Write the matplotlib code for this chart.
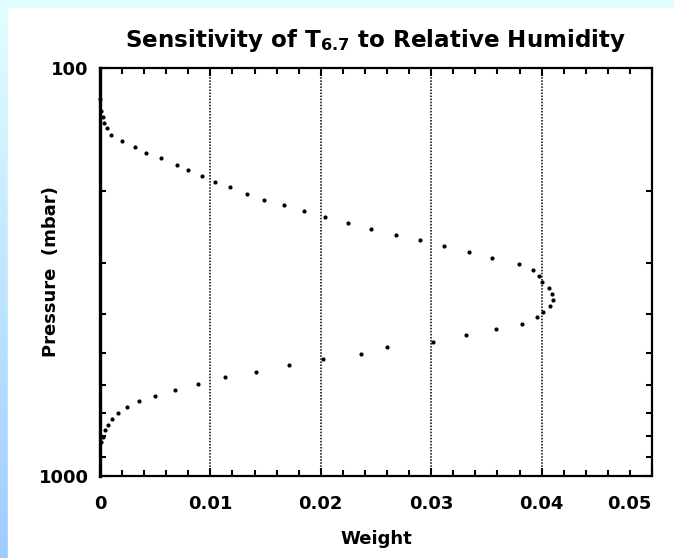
import numpy as np
import matplotlib
matplotlib.use('Agg')
import matplotlib.pyplot as plt
from matplotlib.patches import Rectangle

plt.rcParams['font.family'] = 'DejaVu Sans'
plt.rcParams['font.weight'] = 'bold'
plt.rcParams['mathtext.fontset'] = 'dejavusans'

# weighting function: weight vs pressure (mbar)
pressure = [119.1, 127.5, 132.1, 136.2, 140.5, 145.7,
            150.7, 156.0, 161.3, 166.2, 172.6, 178.1, 183.9, 190.2, 196.0, 203.3,
            210.3, 216.7, 224.1, 231.8, 239.4, 248.1, 256.2, 264.4, 273.5, 282.9,
            292.2, 302.3, 312.7, 323.5, 334.6, 346.2, 358.1, 370.4, 382.5, 395.7,
            408.4, 423.4, 437.0, 452.0, 470.2, 482.8, 501.4, 516.7, 535.4, 555.1,
            572.9, 594.0, 614.5, 635.7, 656.1, 677.6, 701.0, 725.1, 748.9, 771.7,
            801.4, 825.4]
weight = [0.00003, 0.0001, 0.0003, 0.00039, 0.00061, 0.0010,
          0.00202, 0.00314, 0.00419, 0.00555, 0.0070, 0.00797, 0.00921, 0.01044, 0.0118, 0.01329,
          0.01488, 0.01664, 0.01851, 0.02041, 0.02249, 0.02457, 0.02678, 0.02901, 0.03119, 0.0334,
          0.03553, 0.03798, 0.03922, 0.03979, 0.04006, 0.04067, 0.04097, 0.04101, 0.04076, 0.04013,
          0.03956, 0.0382, 0.03587, 0.03318, 0.03019, 0.026, 0.02361, 0.02023, 0.01712, 0.01413,
          0.01135, 0.00888, 0.00677, 0.00501, 0.00353, 0.00245, 0.0016, 0.00109, 0.00072, 0.00043,
          0.0003, 0.0001]

xticks = [0, 0.01, 0.02, 0.03, 0.04, 0.05]
xticklabels = ['0', '0.01', '0.02', '0.03', '0.04', '0.05']
grid_x = [0.01, 0.02, 0.03, 0.04]

fig = plt.figure(figsize=(6.74, 5.58), dpi=100)

# light blue frame at left/top
bg = fig.add_axes([0, 0, 1, 1], zorder=-10)
grad = np.linspace(0, 1, 256)[:, None]
top_c = np.array([0.88, 1.0, 1.0])
bot_c = np.array([0.62, 0.80, 1.0])
img = top_c * (1 - grad[..., None]) + bot_c * grad[..., None]
bg.imshow(img, aspect='auto', extent=[0, 1, 0, 1])
bg.add_patch(Rectangle((8 / 674, 0), 1, 1 - 8 / 558, color='white'))
bg.set_xlim(0, 1)
bg.set_ylim(0, 1)
bg.axis('off')

ax = fig.add_axes([100 / 674, 82 / 558, 552 / 674, 408 / 558])
ax.plot(weight, pressure, 'o', color='black', ms=3.0, mew=0, clip_on=False)
for gx in grid_x:
    ax.axvline(gx, color='black', lw=1.1, ls=(0, (1, 1)))

ax.set_yscale('log')
ax.set_ylim(1000, 100)
ax.set_xlim(0, 0.05)

ax.set_xticks(xticks)
ax.set_xticklabels(xticklabels)
ax.set_xticks(np.arange(0, 0.0501, 0.002), minor=True)
ax.set_yticks([100, 1000])
ax.set_yticklabels(['100', '1000'])
ax.set_yticks([200, 300, 400, 500, 600, 700, 800, 900], minor=True)
ax.set_yticklabels([], minor=True)

ax.tick_params(which='both', direction='in', top=True, right=True, color='black')
ax.tick_params(which='major', length=6, width=1.5, labelsize=13, pad=8)
ax.tick_params(which='minor', length=4, width=1.5)
ax.tick_params(axis='x', which='major', pad=14)
ax.get_xticklabels()[-1].set_horizontalalignment('right')
ax.get_xticklabels()[-1].set_x(0.0504)

for s in ax.spines.values():
    s.set_linewidth(1.6)
ax.spines['left'].set_linewidth(2.4)

ax.set_xlabel('Weight', fontsize=13, fontweight='bold', labelpad=12)
ax.set_ylabel('Pressure  (mbar)', fontsize=13, fontweight='bold')
ax.yaxis.set_label_coords(-0.072, 0.5)
ax.set_title(r'Sensitivity of T$_{\mathbf{6.7}}$ to Relative Humidity',
             fontsize=16.6, fontweight='bold', pad=15)

fig.savefig('out.png', dpi=100)
